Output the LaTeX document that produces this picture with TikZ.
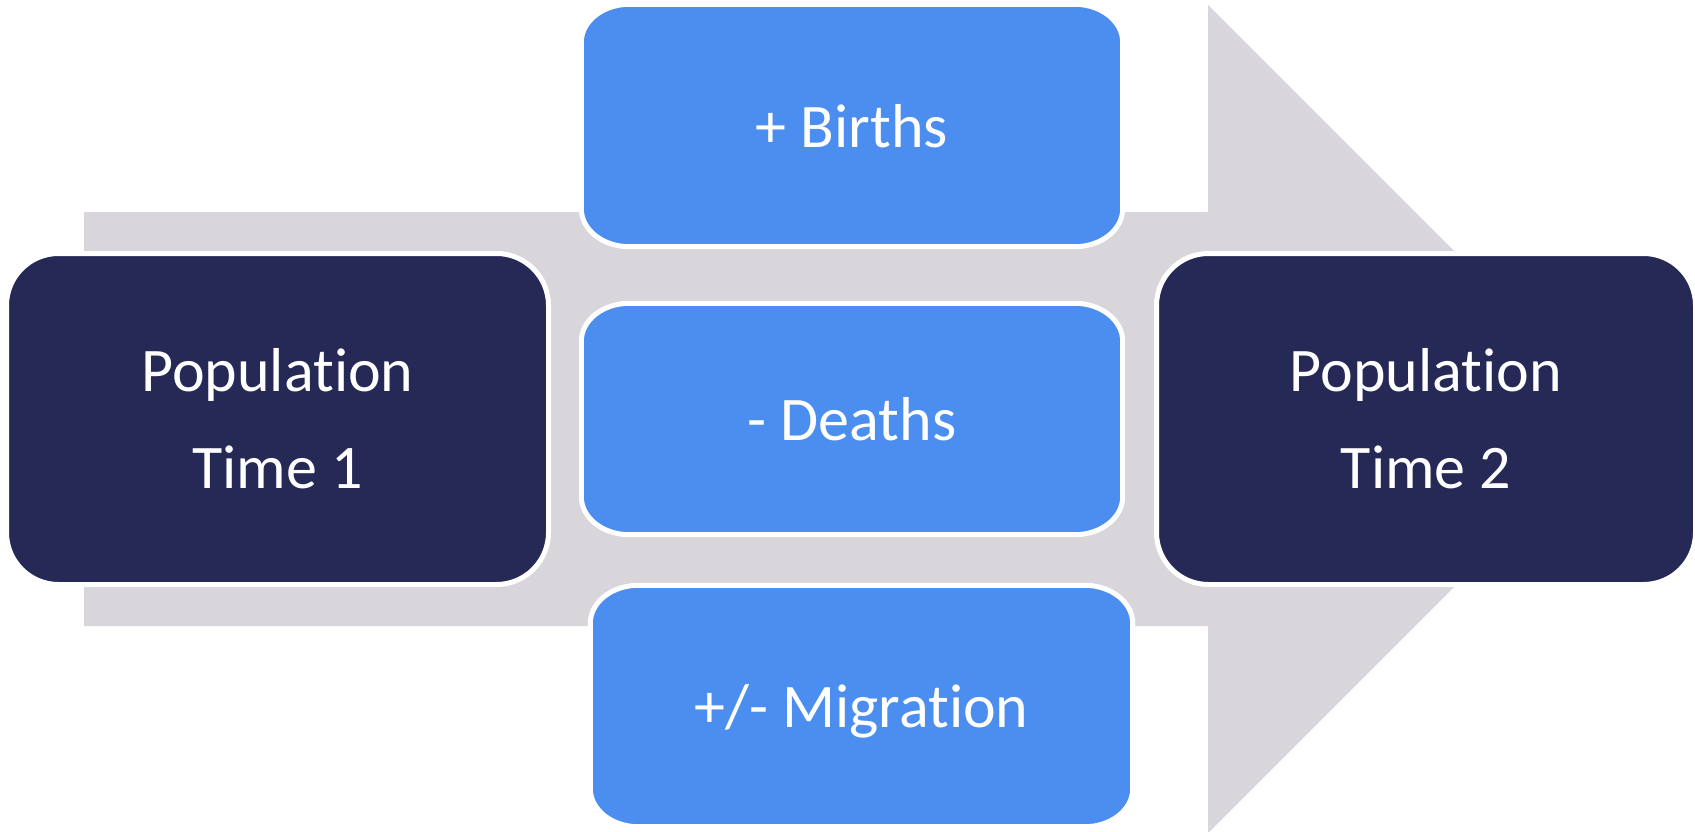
\documentclass[tikz,border=0pt]{standalone}
\usepackage{fontspec}
\setmainfont{Carlito}[Ligatures=NoCommon]
\usepackage{tikz}
\usetikzlibrary{backgrounds}
\definecolor{popnavy}{RGB}{38,41,85}
\definecolor{changeblue}{RGB}{75,142,239}
\definecolor{flowgray}{RGB}{216,213,219}

% blue box with oval corners round a named node
\newcommand\changeshape[1]{%
    \draw[boxline, fill=changeblue] ([xshift=48pt]#1.north west) -- ([xshift=-48pt]#1.north east)
        arc[start angle=90, end angle=0, x radius=48pt, y radius=38pt] -- ([yshift=38pt]#1.south east)
        arc[start angle=0, end angle=-90, x radius=48pt, y radius=38pt] -- ([xshift=48pt]#1.south west)
        arc[start angle=270, end angle=180, x radius=48pt, y radius=38pt] -- ([yshift=-38pt]#1.north west)
        arc[start angle=180, end angle=90, x radius=48pt, y radius=38pt] -- cycle;}

\begin{document}
\begin{tikzpicture}[
        x=1pt, y=-1pt,
        font=\fontsize{62}{97}\selectfont,
        boxline/.style={draw=white, line width=5pt},
        box/.style={text=white, align=center, inner sep=0pt},
        popbox/.style={box, boxline, fill=popnavy, rounded corners=52pt, minimum width=542pt, minimum height=331pt},
        changebox/.style={box, text depth=0pt, minimum width=541pt}
        ]

        \useasboundingbox (0,0) rectangle (1695,832);

        \node[popbox] (pop1) at (277.5,419) {Population\\Time 1};
        \node[popbox, minimum width=539pt] (pop2) at (1426,419) {Population\\Time 2};

        \node[changebox, minimum height=242pt] (births) at (852,125.5) {+ Births};
        \node[changebox, minimum height=231pt] (deaths) at (852,419) {- Deaths};
        \node[changebox, minimum width=542pt, minimum height=241pt] (migration) at (861.5,706) {+/- Migration};

        \begin{scope}[on background layer]
            % big arrow behind
            \fill[flowgray] (84,212) -- (1208,212) -- (1208,5) -- (1622,419) -- (1208,833) -- (1208,626) -- (84,626) -- cycle;
            \changeshape{births}
            \changeshape{deaths}
            \changeshape{migration}
        \end{scope}
    \end{tikzpicture}
\end{document}
